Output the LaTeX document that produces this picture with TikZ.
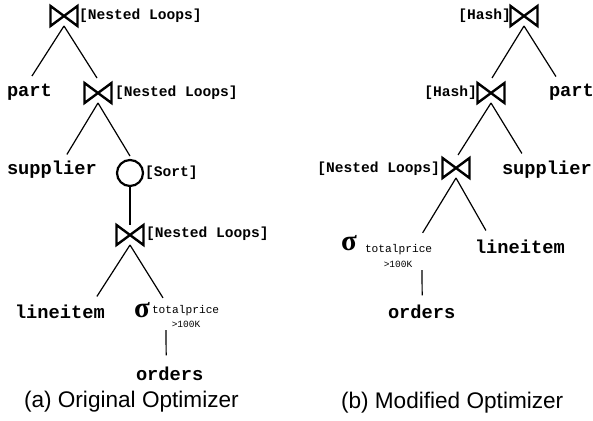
\documentclass[tikz,border=0pt]{standalone}
\usepackage{fontspec}
\setmainfont{Liberation Sans}
\newfontfamily\codefont{Liberation Mono}
\newfontfamily\greekfont{Liberation Serif}

\begin{document}
\begin{tikzpicture}[x=1pt,y=-1pt,
  every node/.style={inner sep=0pt, outer sep=0pt},
  rel/.style={font=\codefont\bfseries\fontsize{18.7}{20}\selectfont, anchor=base west},
  algo/.style={font=\codefont\bfseries\fontsize{14.6}{16}\selectfont, anchor=base west},
  attr/.style={font=\codefont\fontsize{11.2}{12}\selectfont, anchor=base west},
  cond/.style={font=\codefont\fontsize{9.5}{10}\selectfont, anchor=base},
  sel/.style={font=\greekfont\bfseries\fontsize{29}{30}\selectfont, anchor=base west},
  joinop/.style={minimum width=27pt, minimum height=20pt},
  bowtie/.style={line width=2.4pt, line join=miter},
  sortop/.style={circle, draw, line width=2.2pt, minimum size=26pt},
  edge/.style={line width=1.2pt},
  caption/.style={font=\fontsize{22.6}{24}\selectfont, anchor=base west}
]
\useasboundingbox (0,0) rectangle (593,420);

% ---------- (a) original plan ----------
\node[joinop] (a1) at (64,16) {};
\node[algo] (a1l) at (79,20) {[Nested Loops]};
\node[rel] (apart) at (7,96.5) {part};
\node[joinop] (a2) at (98,93) {};
\node[algo] (a2l) at (115,96) {[Nested Loops]};
\node[rel] (asup) at (7,174) {supplier};
\node[sortop] (asort) at (130,173) {};
\node[algo] (asortl) at (145,176.5) {[Sort]};
\node[joinop] (a3) at (130,235) {};
\node[algo] (a3l) at (146,237.5) {[Nested Loops]};
\node[rel] (ali) at (15,318) {lineitem};
\node[sel] (asig) at (134,317) {σ};
\node[attr] (aattr) at (152,313) {totalprice};
\node[cond] (acond) at (186,327) {>100K};
\node[rel] (aord) at (136,380) {orders};

\draw[edge] (a1.south) -- ([shift={(2.5,-8)}]apart.north);
\draw[edge] (a1.south) -- ([shift={(-1,-5)}]a2.north);
\draw[edge] (a2.south) -- ([shift={(15,-6)}]asup.north);
\draw[edge] (a2.south) -- ([shift={(0,-4)}]asort.north);
\draw[edge] (asort.south) -- (a3.north);
\draw[edge] (a3.south) -- ([shift={(37,-8)}]ali.north);
\draw[edge] (a3.south) -- ([shift={(11,-7)}]aattr.north west);
\draw[edge] ([shift={(-20,3)}]acond.south) -- ([shift={(-3.5,-11)}]aord.north);

\node[caption] (acap) at (24,407) {(a) Original Optimizer};

% ---------- (b) modified plan ----------
\node[joinop] (b1) at (524,16) {};
\node[algo, anchor=base east] (b1l) at (511,20) {[Hash]};
\node[rel] (bpart) at (549,96.5) {part};
\node[joinop] (b2) at (491,93) {};
\node[algo, anchor=base east] (b2l) at (477,96) {[Hash]};
\node[joinop] (b3) at (456,168) {};
\node[algo, anchor=base east] (b3l) at (440,172.5) {[Nested Loops]};
\node[rel] (bsup) at (502,174) {supplier};
\node[sel] (bsig) at (341,250) {σ};
\node[attr] (battr) at (365,252) {totalprice};
\node[cond] (bcond) at (398,267) {>100K};
\node[rel] (bli) at (475,253) {lineitem};
\node[rel] (bord) at (388,318) {orders};

\draw[edge] (b1.south) -- ([shift={(1,-5)}]b2.north);
\draw[edge] (b1.south) -- ([shift={(-15.5,-7.5)}]bpart.north);
\draw[edge] (b2.south) -- ([shift={(2,-3)}]b3.north);
\draw[edge] (b2.south) -- ([shift={(-25,-7)}]bsup.north);
\draw[edge] (b3.south) -- ([shift={(24,-11)}]battr.north);
\draw[edge] (b3.south) -- ([shift={(-34,-9)}]bli.north);
\draw[edge] ([shift={(24,3)}]bcond.south) -- ([shift={(0.5,-9)}]bord.north);

\node[caption] (bcap) at (341,408) {(b) Modified Optimizer};

% join symbols drawn as bow ties over their nodes
\foreach \j in {a1,a2,a3,b1,b2,b3}
  \draw[bowtie] (\j.north west) -- (\j.south west) -- (\j.north east) -- (\j.south east) -- cycle;
\end{tikzpicture}
\end{document}
